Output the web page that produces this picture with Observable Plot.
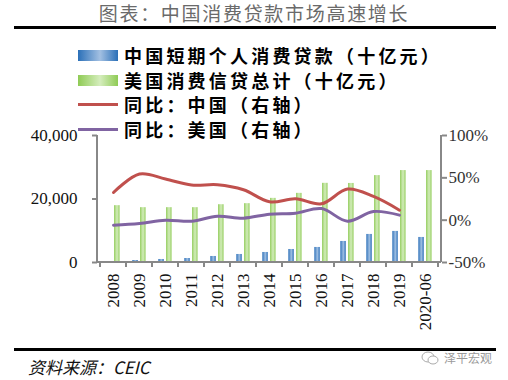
<!DOCTYPE html>
<html><head><meta charset="utf-8">
<script src="https://cdn.jsdelivr.net/npm/d3@7"></script>
<script src="https://cdn.jsdelivr.net/npm/@observablehq/plot@0.6"></script>
<style>
body{margin:0;background:#fff;}
#wrap{position:relative;width:508px;height:380px;overflow:hidden;font-family:"Noto Sans CJK SC",sans-serif;background:#fff;}
#title{position:absolute;left:0;width:508px;top:0px;text-align:center;font-size:19px;letter-spacing:1.7px;color:#6a6a6a;line-height:26px;}
.hr{position:absolute;left:14px;width:482px;height:3px;background:#000;}
.row{position:absolute;left:78px;height:24px;display:flex;align-items:center;white-space:nowrap;}
.sw{width:40px;margin-right:6px;flex:none;}
.lab{font-size:18px;font-weight:bold;letter-spacing:3.2px;color:#000;line-height:24px;}
#chart{position:absolute;left:0;top:125px;}
#src{position:absolute;left:28px;top:355px;font-size:17px;font-style:italic;color:#111;line-height:24px;}
#wm{position:absolute;left:444px;top:350px;font-size:12px;color:#9a9a9a;line-height:16px;}
#wmicon{position:absolute;left:421px;top:351px;}
</style>
</head><body>
<div id="wrap">
  <div id="title">图表：中国消费贷款市场高速增长</div>
  <div class="hr" style="top:25.5px"></div>
  <div id="legend"></div>
  <div id="chart"></div>
  <div class="hr" style="top:347.5px"></div>
  <div id="src">资料来源：CEIC</div>
  <svg id="wmicon" width="18" height="14"><ellipse cx="7" cy="6" rx="6" ry="5" fill="none" stroke="#aaa" stroke-width="1"/><ellipse cx="12" cy="9" rx="5" ry="4" fill="#fff" stroke="#aaa" stroke-width="1"/></svg>
  <div id="wm">泽平宏观</div>
</div>
<script>
const years = ["2008","2009","2010","2011","2012","2013","2014","2015","2016","2017","2018","2019","2020-06"];
const chinaLoans = [200, 630, 950, 1260, 1900, 2530, 3160, 4100, 4740, 6630, 8840, 9790, 7890];
const usCredit = [17900, 17270, 17270, 17270, 18200, 18530, 20200, 21780, 24940, 24900, 27370, 28950, 28950];
const lineYears = ["2008","2009","2010","2011","2012","2013","2014","2015","2016","2017","2018","2019"];
const chinaYoY = [32.7, 54.5, 48.6, 41.5, 41.8, 35.9, 21.7, 25.2, 19.3, 36.7, 28.0, 11.8];
const usYoY = [-5.9, -4.0, 0.0, -1.2, 4.7, 2.4, 7.1, 8.3, 13.7, -1.2, 10.2, 5.9];
const leftTicks = [0, 20000, 40000];
const pctTicks = [-50, 0, 50, 100];
const legendNames = ["中国短期个人消费贷款（十亿元）","美国消费信贷总计（十亿元）","同比：中国（右轴）","同比：美国（右轴）"];

const toLeft = p => (p + 50) * 40000 / 150;
const fromLeft = v => v * 150 / 40000 - 50;

const bars = years.map((y, i) => ({year: y, cn: chinaLoans[i], us: usCredit[i]}));
const lines = lineYears.map((y, i) => ({year: y, cn: chinaYoY[i], us: usYoY[i]}));

// legend
const legendTops = [43, 68, 92, 117];
const leg = document.getElementById("legend");
legendNames.forEach((name, i) => {
  const row = document.createElement("div");
  row.className = "row";
  row.style.top = legendTops[i] + "px";
  let sw;
  if (i === 0) sw = '<div class="sw" style="height:11px;background:linear-gradient(90deg,#2b70b8,#a3c0e2 55%,#2b70b8)"></div>';
  else if (i === 1) sw = '<div class="sw" style="height:11px;background:linear-gradient(90deg,#8fcb55,#d5edbd 55%,#8fcb55)"></div>';
  else if (i === 2) sw = '<div class="sw" style="height:3px;background:#c0504d"></div>';
  else sw = '<div class="sw" style="height:3px;background:#8064a2"></div>';
  row.innerHTML = sw + '<span class="lab">' + name + '</span>';
  leg.appendChild(row);
});

const plot = Plot.plot({
  width: 508, height: 215,
  marginLeft: 97, marginRight: 67, marginTop: 10, marginBottom: 78,
  style: {fontFamily: "'Liberation Serif', 'Times New Roman', serif", fontSize: "17px", color: "#222", background: "transparent", overflow: "visible"},
  x: {type: "band", domain: years, paddingInner: 0, paddingOuter: 0, label: null},
  y: {domain: [0, 40000], label: null},
  marks: [
    Plot.barY(bars, {x: "year", y: "cn", fill: "url(#gBlue)", insetLeft: 6.3, insetRight: 14.2}),
    Plot.barY(bars, {x: "year", y: "us", fill: "url(#gGreen)", insetLeft: 14, insetRight: 6.4}),
    Plot.line(lines, {x: "year", y: d => toLeft(d.cn), curve: "catmull-rom", stroke: "#c0504d", strokeWidth: 3}),
    Plot.line(lines, {x: "year", y: d => toLeft(d.us), curve: "catmull-rom", stroke: "#8064a2", strokeWidth: 3}),
    Plot.axisY({anchor: "left", label: null, ticks: leftTicks, tickFormat: d3.format(","), tickSize: 5, tickPadding: 15, stroke: "#888", strokeWidth: 2, fill: "#111"}),
    Plot.axisY({anchor: "right", label: null, ticks: pctTicks.map(toLeft), tickFormat: v => Math.round(fromLeft(v)) + "%", tickSize: 5, tickPadding: 2, stroke: "#888", strokeWidth: 2, fill: "#333"}),
    Plot.axisX({label: null, tickSize: 0, tickRotate: -90, tickPadding: 11, fill: "#111"})
  ]
});
document.getElementById("chart").appendChild(plot);

const svg = d3.select(plot);
const defs = svg.insert("defs", ":first-child");
function grad(id, edge, mid) {
  const g = defs.append("linearGradient").attr("id", id).attr("x1", "0%").attr("x2", "100%").attr("y1", "0%").attr("y2", "0%");
  g.append("stop").attr("offset", "0%").attr("stop-color", edge);
  g.append("stop").attr("offset", "55%").attr("stop-color", mid);
  g.append("stop").attr("offset", "100%").attr("stop-color", edge);
}
grad("gBlue", "#2f72ba", "#9fbfe2");
grad("gGreen", "#97cf62", "#d3ecbb");

const xs = plot.scale("x"), ys = plot.scale("y");
const r0 = xs.range[0], r1 = xs.range[1], bw = xs.bandwidth;
const yb = ys.apply(0), yt = ys.apply(40000);
const g = svg.append("g").attr("stroke", "#888").attr("stroke-width", 2);
g.append("line").attr("x1", r0).attr("x2", r0).attr("y1", yt).attr("y2", yb);
g.append("line").attr("x1", r1).attr("x2", r1).attr("y1", yt).attr("y2", yb);
g.append("line").attr("x1", r0).attr("x2", r1).attr("y1", yb).attr("y2", yb);
for (let i = 0; i <= years.length; i++) {
  const x = i < years.length ? xs.apply(years[i]) : xs.apply(years[years.length - 1]) + bw;
  g.append("line").attr("x1", x).attr("x2", x).attr("y1", yb).attr("y2", yb + 5);
}
</script>
</body></html>
